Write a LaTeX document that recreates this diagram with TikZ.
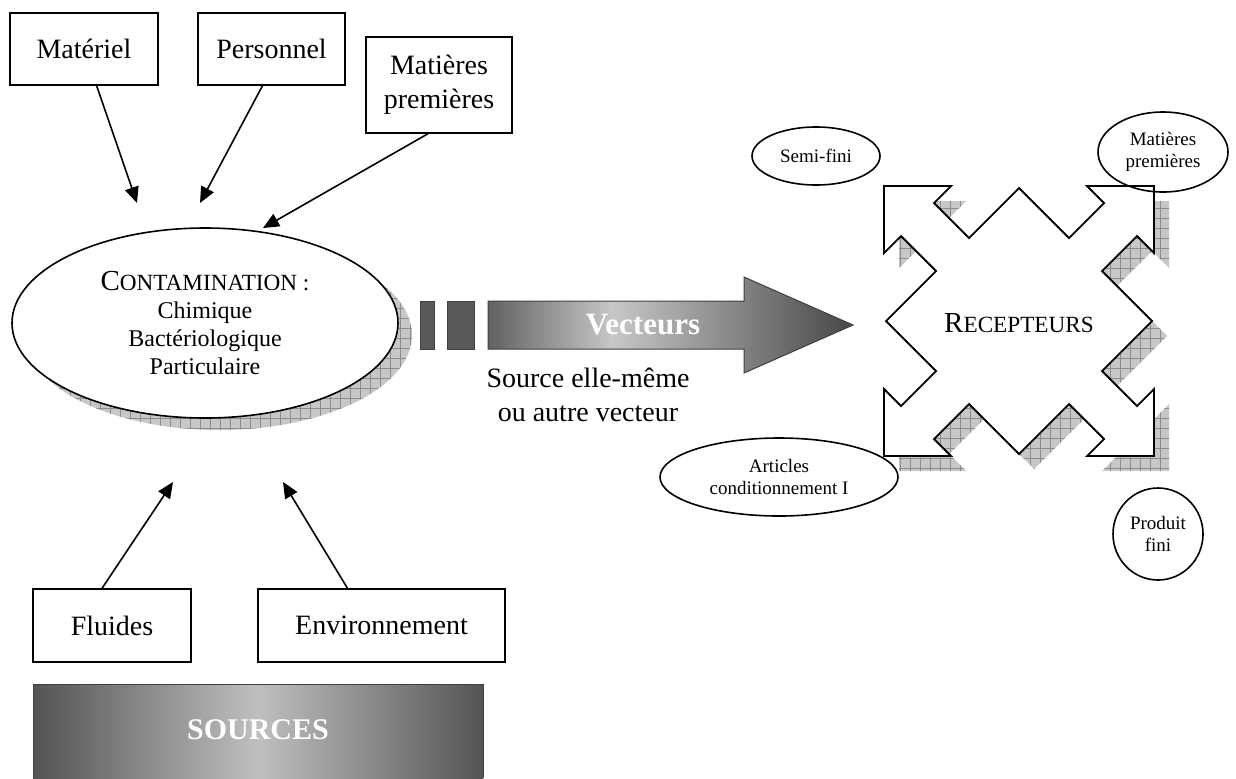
\documentclass[tikz,border=0pt]{standalone}
\usepackage{fontspec}
\setmainfont{Liberation Serif}
\usetikzlibrary{arrows.meta,shapes.geometric,patterns.meta}
\pgfdeclarehorizontalshading{vecshade}{100bp}{color(0bp)=(black!62); color(25bp)=(black!62); color(42bp)=(black!22); color(75bp)=(black!72); color(100bp)=(black!72)}
\tikzset{>={Triangle[length=8pt,width=7pt]},
	box/.style={draw=black,line width=0.7pt,inner sep=2pt,align=center,font=\fontsize{14}{17}\selectfont},
	oval/.style={ellipse,draw=black,line width=0.8pt,inner sep=0pt,align=center,font=\fontsize{9.5}{11}\selectfont},
	hatch/.style={fill=black!22,postaction={pattern={Hatch[distance=5pt,line width=0.3pt]},pattern color=black!45}},
	bar/.style={draw=black!75,fill=black!65,line width=0.5pt},
	flow/.style={->,line width=0.8pt},
	white text/.style={text=white,font=\fontsize{15.5}{18}\selectfont\bfseries}}
\newcommand{\bigsc}[2]{{\fontsize{14.5}{16}\selectfont #1}{\fontsize{11.6}{16}\selectfont #2}}

\begin{document}
\begin{tikzpicture}[x=0.5pt,y=-0.5pt]
	\useasboundingbox (0,0) rectangle (1236,778);
	% sources
	\node (mat) at (84,49) [box,minimum width=74pt,minimum height=36pt] {Matériel};
	\node (per) at (271.5,49) [box,minimum width=73.5pt,minimum height=36pt] {Personnel};
	\node (mp) at (439,85) [box,minimum width=73pt,minimum height=48pt] {Matières\\premières};
	\node (flu) at (112,625.5) [box,minimum width=79pt,minimum height=36.5pt] {Fluides};
	\node (env) at (381.5,625.5) [box,minimum width=123.5pt,minimum height=36.5pt] {Environnement};
	\shade [left color=black!67,right color=black!67,middle color=black!25] (33,684) rectangle (483,778);
	\draw [black!75,line width=0.5pt] (33,778) -- (33,684) -- (483,684) -- (483,778);
	\node (src) at (258,730) [white text,font=\fontsize{15}{18}\selectfont\bfseries] {SOURCES};
	% contamination
	\node (cshad) at (219,335) [ellipse,minimum width=193pt,minimum height=95pt,hatch] {};
	\node (cont) at (205,323) [ellipse,draw=black,fill=white,line width=0.8pt,minimum width=193pt,minimum height=95pt,inner sep=0pt,align=center,font=\fontsize{12}{14}\selectfont]
		{\bigsc{C}{ONTAMINATION :}\\Chimique\\Bactériologique\\Particulaire};
	\coordinate (tMat) at (137,203);
	\coordinate (tPer) at (200,203);
	\coordinate (tMp) at (263,228);
	\coordinate (tFlu) at (173,482);
	\coordinate (tEnv) at (283,482);
	\draw [flow] (mat) -- (tMat);
	\draw [flow] ([xshift=-4.5pt]per.south) -- (tPer);
	\draw [flow] ([xshift=-5.5pt]mp.south) -- (tMp);
	\draw [flow] ([xshift=-5pt]flu.north) -- (tFlu);
	\draw [flow] ([xshift=-17pt]env.north) -- (tEnv);
	% vecteurs
	\draw [bar] (420,301) rectangle (434,349);
	\draw [bar] (447,301) rectangle (474,349);
	\draw [shading=vecshade,draw=black!75,line width=0.5pt] (488,301) -- (744,301) -- (744,277) -- (853,325) -- (744,373) -- (744,349) -- (488,349) -- cycle;
	\node (vec) at (643,325) [white text] {Vecteurs};
	\node (via) at (588,395) [align=center,font=\fontsize{14}{17}\selectfont] {Source elle-même\\ou autre vecteur};
	% recepteurs
	\begin{scope}[shift={(1034,336)}]
		\fill [hatch] (-135,-135) -- (-68,-135) -- (-85,-118) -- (-50,-83) -- (0,-133) -- (50,-83) -- (85,-118) -- (68,-135)
			-- (135,-135) -- (135,-68) -- (118,-85) -- (83,-50) -- (133,0) -- (83,50) -- (118,85) -- (135,68)
			-- (135,135) -- (68,135) -- (85,118) -- (50,83) -- (0,133) -- (-50,83) -- (-85,118) -- (-68,135)
			-- (-135,135) -- (-135,68) -- (-118,85) -- (-83,50) -- (-133,0) -- (-83,-50) -- (-118,-85) -- (-135,-68) -- cycle;
	\end{scope}
	\begin{scope}[shift={(1019,321)}]
		\draw [fill=white,line width=0.9pt,line join=miter] (-135,-135) -- (-68,-135) -- (-85,-118) -- (-50,-83) -- (0,-133) -- (50,-83) -- (85,-118) -- (68,-135)
			-- (135,-135) -- (135,-68) -- (118,-85) -- (83,-50) -- (133,0) -- (83,50) -- (118,85) -- (135,68)
			-- (135,135) -- (68,135) -- (85,118) -- (50,83) -- (0,133) -- (-50,83) -- (-85,118) -- (-68,135)
			-- (-135,135) -- (-135,68) -- (-118,85) -- (-83,50) -- (-133,0) -- (-83,-50) -- (-118,-85) -- (-135,-68) -- cycle;
	\end{scope}
	\node (rec) at (1019,323) {\bigsc{R}{ECEPTEURS}};
	\node (semi) at (816,156) [oval,minimum width=64pt,minimum height=29pt] {Semi-fini};
	\node (mpr) at (1163,152) [oval,minimum width=65pt,minimum height=40pt] {Matières\\premières};
	\node (art) at (779,477) [oval,minimum width=119pt,minimum height=39pt] {Articles\\conditionnement I};
	\node (pf) at (1158,534) [oval,minimum width=45pt,minimum height=46pt] {Produit\\fini};
\end{tikzpicture}
\end{document}
